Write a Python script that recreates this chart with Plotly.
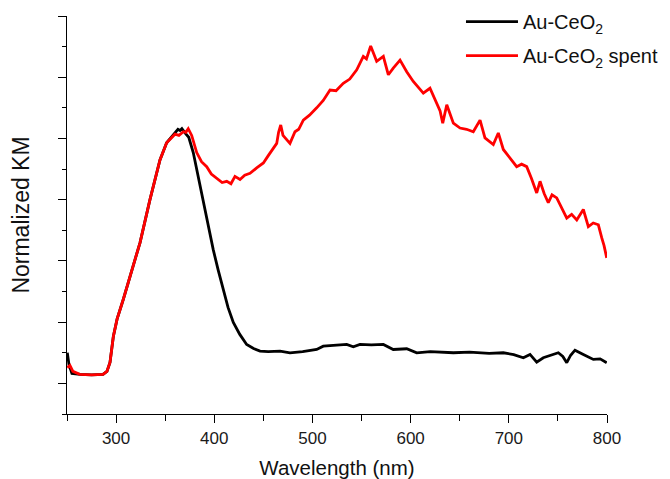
import plotly.graph_objects as go

# Wavelength (nm) and normalized KM values
wl_fresh = [250.3, 252, 255, 263.2, 275, 286.7, 290.7, 293.8, 297.2, 301, 307.3, 315, 324.4, 334.5,
            344.7, 351.5, 356, 360, 363, 365.1, 367, 370.2, 374, 378.6, 383, 388.8, 394, 399, 404,
            409.2, 414, 419.4, 426, 433, 440, 446.6, 455, 467, 477.1, 490, 504.3, 511, 520, 534.9,
            541.6, 548.4, 560, 572.2, 582.3, 596, 606.2, 620, 643.5, 660, 680, 694.4, 705, 714.8,
            721.6, 728.4, 735.1, 742, 750.4, 755, 759, 763, 767.4, 775.9, 786.1, 793, 799.7]
km_fresh = [0.50, 0.31, 0.163, 0.147, 0.14, 0.147, 0.196, 0.342, 0.766, 1.05, 1.37, 1.80, 2.30, 3.00,
            3.65, 3.93, 4.02, 4.09, 4.15, 4.13, 4.16, 4.09, 4.02, 3.77, 3.42, 2.95, 2.55, 2.18, 1.85,
            1.53, 1.24, 0.995, 0.80, 0.636, 0.57, 0.527, 0.52, 0.527, 0.50, 0.52, 0.554, 0.608, 0.62, 0.636,
            0.598, 0.636, 0.63, 0.636, 0.554, 0.566, 0.50, 0.52, 0.50, 0.51, 0.49, 0.50, 0.47, 0.419,
            0.473, 0.347, 0.419, 0.46, 0.50, 0.44, 0.338, 0.46, 0.543, 0.473, 0.391, 0.40, 0.338]

wl_spent = [250.3, 253, 256, 263, 275, 286.7, 290.7, 293.8, 297.2, 301, 307.3, 315, 324.4, 334.5,
            344.7, 351.5, 356, 360, 364, 368.5, 371, 373.5, 377, 382.1, 387, 392.3, 397, 402.5, 408,
            412.7, 417, 421.1, 426.2, 431, 436.4, 443.2, 450, 455, 460.1, 463.6, 465.5, 467.7, 470,
            472, 477.1, 482.2, 486, 490.7, 497, 504.3, 511, 517.9, 524, 531.4, 538, 545.1, 551.8,
            555, 559.3, 565.4, 572.2, 577.3, 582.3, 589.2, 596, 602.7, 612.9, 619.7, 626.6, 630,
            632.7, 636.8, 643.5, 650.3, 657, 663.8, 670.7, 675.7, 684.2, 689.3, 694.4, 701, 708,
            713, 718.2, 723, 728.4, 731.8, 736, 740.2, 744, 748.8, 754, 759, 764, 769.2, 775.9,
            781, 786, 791.2, 794.6, 797, 799.7]
km_spent = [0.256, 0.293, 0.196, 0.147, 0.14, 0.147, 0.196, 0.342, 0.766, 1.05, 1.37, 1.80, 2.30, 3.00,
            3.65, 3.93, 4.00, 4.07, 4.05, 4.11, 4.10, 4.16, 4.05, 3.77, 3.62, 3.54, 3.42, 3.35, 3.28,
            3.30, 3.26, 3.38, 3.33, 3.40, 3.43, 3.52, 3.60, 3.72, 3.84, 3.92, 4.10, 4.22, 4.05,
            4.01, 3.92, 4.11, 4.15, 4.30, 4.38, 4.50, 4.62, 4.79, 4.78, 4.90, 4.97, 5.12, 5.34,
            5.30, 5.51, 5.26, 5.34, 5.04, 5.15, 5.28, 5.09, 4.93, 4.74, 4.82, 4.58, 4.45,
            4.25, 4.55, 4.25, 4.17, 4.15, 4.11, 4.30, 4.01, 3.90, 4.09, 3.82, 3.68, 3.54,
            3.58, 3.54, 3.35, 3.11, 3.30, 3.10, 2.95, 3.08, 3.03, 2.85, 2.70, 2.76, 2.67, 2.84,
            2.56, 2.62, 2.59, 2.38, 2.25, 2.05]

series_names = ["Au-CeO<sub>2</sub>", "Au-CeO<sub>2</sub> spent"]
series_colors = ["#000000", "#ff0000"]

fig = go.Figure()
fig.add_trace(go.Scatter(x=wl_fresh, y=km_fresh, mode="lines", name=series_names[0],
                         legendgroup="a", line=dict(color=series_colors[0], width=2.8)))
fig.add_trace(go.Scatter(x=wl_spent, y=km_spent, mode="lines", name=series_names[1],
                         legendgroup="b", line=dict(color=series_colors[1], width=2.8)))

font = "Liberation Sans, Arial, sans-serif"
# the page body adds an 8px offset, so the figure is 8px smaller on each axis
fig.update_layout(
    width=662, height=471,
    margin=dict(l=59, r=63, t=8, b=65, autoexpand=False),
    paper_bgcolor="white", plot_bgcolor="white",
    font=dict(family=font, size=17, color="#1a1a1a"),
    showlegend=True,
    legend=dict(x=0.7296, y=1.035, xanchor="left", yanchor="top", bgcolor="rgba(0,0,0,0)",
                font=dict(size=20, color="#111"), itemwidth=52, tracegroupgap=5,
                borderwidth=0),
    xaxis=dict(range=[250, 800], tick0=0, dtick=100, showline=True, linecolor="black",
               linewidth=1.3, ticks="outside", ticklen=8, tickwidth=1.3, tickcolor="black",
               showgrid=False, zeroline=False, automargin=False, ticklabelstandoff=0,
               tickfont=dict(size=17, color="#1a1a1a"),
               minor=dict(dtick=50, ticks="outside", ticklen=6, tickwidth=1.3, tickcolor="black"),
               title=dict(text="Wavelength (nm)", font=dict(size=20.5, color="#111"), standoff=15)),
    yaxis=dict(range=[-0.5, 6], tick0=0, dtick=1, showline=True, linecolor="black",
               linewidth=1.3, ticks="outside", ticklen=8, tickwidth=1.3, tickcolor="black",
               showticklabels=False, showgrid=False, zeroline=False, automargin=False,
               minor=dict(dtick=0.5, ticks="outside", ticklen=4, tickwidth=1.3, tickcolor="black"),
               title=dict(text="Normalized KM", font=dict(size=23, color="#111"), standoff=25)),
)

fig.write_html("out.html")
